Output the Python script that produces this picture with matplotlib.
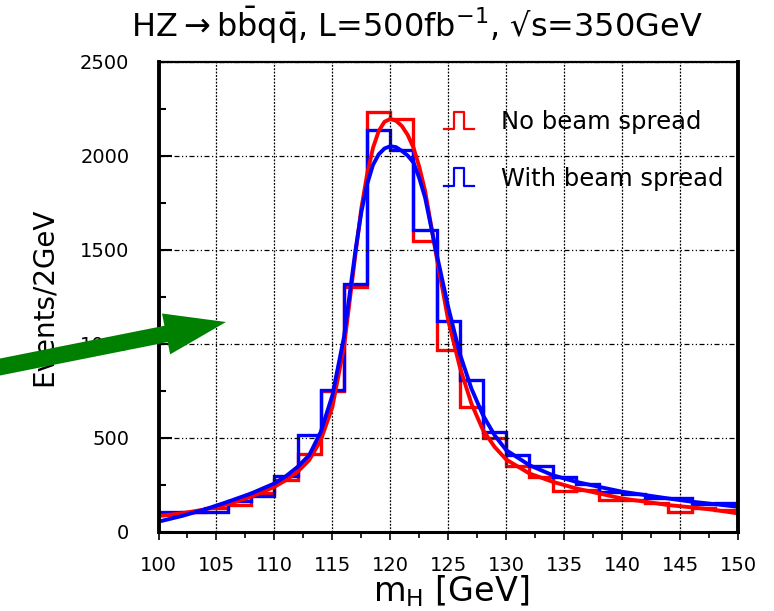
import numpy as np
import matplotlib.pyplot as plt
from matplotlib.lines import Line2D
from matplotlib.legend_handler import HandlerBase
from matplotlib.patches import FancyArrowPatch

plt.rcParams['font.family'] = ['DejaVu Sans']
plt.rcParams['mathtext.fontset'] = 'dejavusans'

# bin edges, 2 GeV bins
edges = np.arange(100, 152, 2)

# histogram contents (events / 2 GeV)
red_counts = [90, 108, 125, 143, 208, 276, 417, 749, 1304, 2233, 2196, 1548, 968,
              664, 502, 350, 290, 217, 222, 168, 168, 152, 108, 127, 117]
blue_counts = [105, 105, 108, 165, 190, 297, 514, 756, 1318, 2134, 2028, 1604, 1120,
               806, 532, 408, 351, 291, 255, 215, 200, 180, 180, 148, 155]

# fitted curves
fit_x = [100, 102, 104, 106, 108, 110, 111, 112, 113, 114, 115, 116, 117, 117.5,
         118, 118.5, 119, 119.5, 120, 120.5, 121, 121.5, 122, 122.5, 123, 124,
         125, 126, 127, 128, 129, 130, 132, 134, 136, 138, 140, 142, 144, 146, 148, 150]
red_fit = [85, 99, 120, 148, 187, 240, 276, 320, 382, 488, 664, 982, 1480, 1720,
           1901, 2040, 2131, 2180, 2195, 2185, 2157, 2110, 2042, 1940, 1813, 1459,
           1124, 876, 682, 541, 452, 385, 311, 267, 232, 205, 178, 161, 143, 131, 117, 99]
blue_fit = [55, 85, 120, 161, 205, 258, 297, 346, 408, 532, 726, 1035, 1500, 1700,
            1848, 1950, 2007, 2038, 2050, 2045, 2025, 2000, 1963, 1880, 1777, 1477,
            1194, 947, 762, 620, 514, 435, 355, 302, 267, 240, 214, 196, 178, 161, 148, 134]

labels = ['No beam spread', 'With beam spread']
x_ticks = list(range(100, 151, 5))
y_ticks = [0, 500, 1000, 1500, 2000, 2500]


# little histogram-shaped legend icon
class StepHandler(HandlerBase):
    def create_artists(self, legend, orig_handle, xdescent, ydescent,
                       width, height, fontsize, trans):
        xs = np.array([0, 1/3, 1/3, 2/3, 2/3, 1]) * width - xdescent
        ys = np.array([0, 0, 1, 1, 0, 0]) * height - ydescent
        ln = Line2D(xs, ys, color=orig_handle.get_color(), lw=1.6)
        ln.set_transform(trans)
        return [ln]


fig = plt.figure(figsize=(7.74, 6.11), dpi=100)
ax = fig.add_axes([0.2048, 0.1293, 0.7487, 0.77])

ax.stairs(red_counts, edges, baseline=None, color='#ff0000', lw=2.4)
ax.plot(fit_x, red_fit, color='#ff0000', lw=2.8)
ax.stairs(blue_counts, edges, baseline=None, color='#0000ff', lw=2.4)
ax.plot(fit_x, blue_fit, color='#0000ff', lw=2.8)

ax.set_xlim(100, 150)
ax.set_ylim(0, 2500)
ax.set_xticks(x_ticks)
ax.set_xticks(np.arange(102.5, 150, 5), minor=True)
ax.set_yticks(y_ticks)
ax.set_yticks(np.arange(250, 2500, 500), minor=True)

ax.tick_params(axis='x', which='major', direction='out', length=6, width=1.2,
               pad=11, labelsize=14)
ax.tick_params(axis='x', which='minor', direction='out', length=4, width=1.2)
ax.tick_params(axis='y', which='major', direction='in', length=9.5, width=1.5,
               pad=21, labelsize=14)
ax.tick_params(axis='y', which='minor', direction='in', length=5, width=1.5)

ax.grid(axis='x', which='major', color='k', lw=0.9, ls=(0, (1.5, 1.2)))
ax.grid(axis='y', which='major', color='k', lw=0.9, ls=(0, (4, 2, 1, 2, 1, 2)))

ax.spines['left'].set_linewidth(2.8)
ax.spines['bottom'].set_linewidth(2.2)
ax.spines['right'].set_linewidth(2.8)
ax.spines['top'].set_linewidth(1.6)

ax.set_xlabel(r'm$_{\rm H}$ [GeV]', fontsize=24, va='baseline')
ax.xaxis.set_label_coords(0.505, -0.147)
ax.set_ylabel('Events/2GeV', fontsize=20, va='center')
ax.yaxis.set_label_coords(-0.1976, 0.4995)

fig.text(0.539, 0.94,
         r'HZ$\rightarrow$b$\bar{\rm b}$q$\bar{\rm q}$, L=500fb$^{-1}$, √s=350GeV',
         fontsize=23, ha='center', va='baseline')

h_red = Line2D([], [], color='#ff0000')
h_blu = Line2D([], [], color='#0000ff')
ax.legend([h_red, h_blu], labels, handler_map={Line2D: StepHandler()},
          loc='upper left', bbox_to_anchor=(0.492, 0.897), frameon=False,
          fontsize=17.5, handlelength=1.25, handleheight=0.75, handletextpad=1.1,
          labelspacing=1.35, borderpad=0, borderaxespad=0)

# green arrow pointing into the plot
arrow = FancyArrowPatch((-10 / 774, 1 - 369 / 611), (226 / 774, 1 - 322 / 611),
                        transform=fig.transFigure, color='#008000',
                        arrowstyle='simple,head_length=44,head_width=30,tail_width=12',
                        shrinkA=0, shrinkB=0, mutation_scale=1, lw=0)
fig.add_artist(arrow)

fig.savefig('out.png', dpi=100)
